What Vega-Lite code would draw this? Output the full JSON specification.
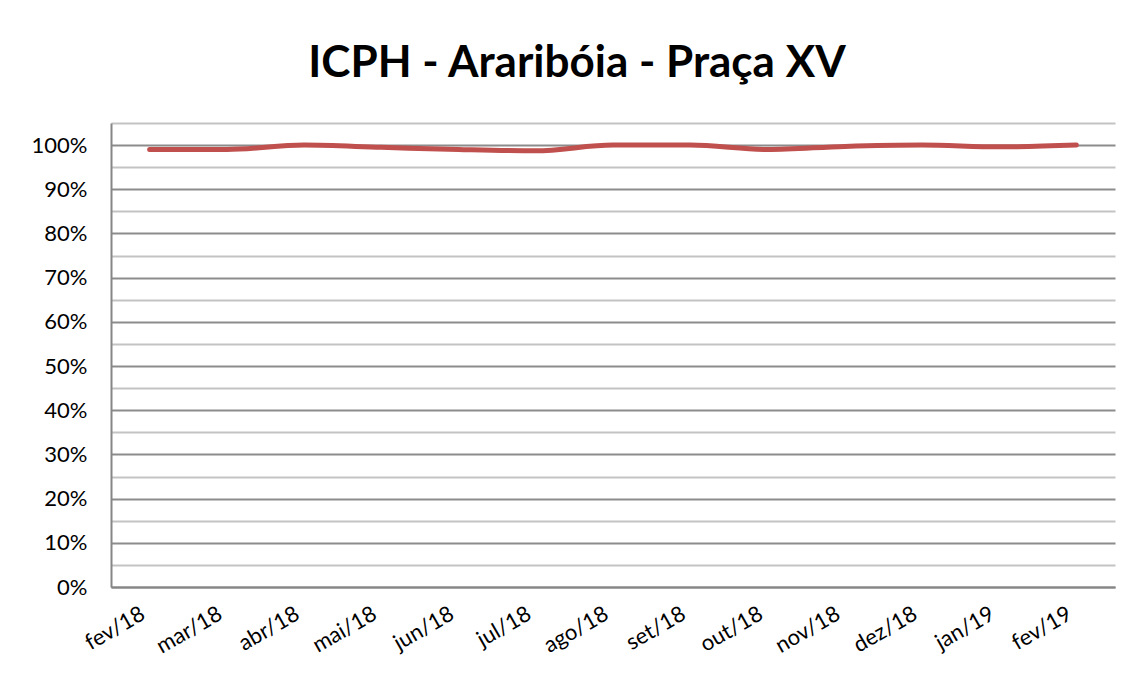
{
  "$schema": "https://vega.github.io/schema/vega-lite/v6.json",
  "autosize": "none",
  "width": 1004,
  "height": 464,
  "padding": {"left": 111, "top": 123, "right": 16, "bottom": 95},
  "background": "white",
  "title": {
    "text": "ICPH - Araribóia - Praça XV",
    "font": "Lato",
    "fontSize": 44,
    "fontWeight": "bold",
    "color": "#000000",
    "anchor": "middle",
    "dx": -36,
    "offset": 37
  },
  "data": {
    "values": [
      {"mes": "fev/18", "valor": 0.99},
      {"mes": "mar/18", "valor": 0.99},
      {"mes": "abr/18", "valor": 1.0},
      {"mes": "mai/18", "valor": 0.995},
      {"mes": "jun/18", "valor": 0.99},
      {"mes": "jul/18", "valor": 0.987},
      {"mes": "ago/18", "valor": 1.0},
      {"mes": "set/18", "valor": 1.0},
      {"mes": "out/18", "valor": 0.99},
      {"mes": "nov/18", "valor": 0.997},
      {"mes": "dez/18", "valor": 1.0},
      {"mes": "jan/19", "valor": 0.996},
      {"mes": "fev/19", "valor": 1.0}
    ]
  },
  "mark": {
    "type": "line",
    "color": "#C0504D",
    "strokeWidth": 5,
    "strokeCap": "round",
    "strokeJoin": "round",
    "interpolate": "monotone"
  },
  "encoding": {
    "x": {
      "field": "mes",
      "type": "ordinal",
      "sort": null,
      "scale": {"padding": 0.5},
      "axis": {
        "title": null,
        "labelAngle": -30,
        "labelFont": "Lato",
        "labelFontSize": 22,
        "labelColor": "#000000",
        "labelPadding": 16,
        "labelOffset": -12,
        "ticks": false,
        "domain": true,
        "domainColor": "#868686",
        "domainWidth": 2,
        "grid": false
      }
    },
    "y": {
      "field": "valor",
      "type": "quantitative",
      "scale": {"domain": [0, 1.05], "nice": false, "zero": true},
      "axis": {
        "title": null,
        "values": [0, 0.05, 0.1, 0.15, 0.2, 0.25, 0.3, 0.35, 0.4, 0.45, 0.5, 0.55, 0.6, 0.65, 0.7, 0.75, 0.8, 0.85, 0.9, 0.95, 1.0, 1.05],
        "labelExpr": "round(datum.value*20) % 2 == 0 ? format(datum.value, '.0%') : ''",
        "labelFont": "Lato",
        "labelFontSize": 22,
        "labelColor": "#000000",
        "labelPadding": 24,
        "ticks": false,
        "domain": true,
        "domainColor": "#868686",
        "domainWidth": 2,
        "grid": true,
        "gridWidth": 2,
        "gridColor": {
          "condition": {"test": "round(datum.value*20) % 2 == 0", "value": "#8c8c8c"},
          "value": "#c3c3c3"
        }
      }
    }
  },
  "config": {
    "view": {"stroke": null}
  }
}
